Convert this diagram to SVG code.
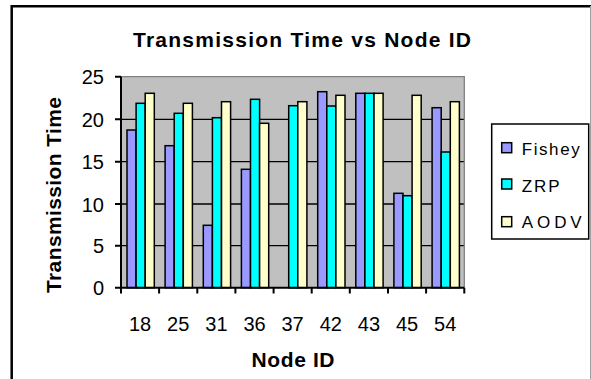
<svg xmlns="http://www.w3.org/2000/svg" width="591" height="379" viewBox="0 0 591 379">
<style>
text{font-family:"Liberation Sans",Arial,sans-serif;fill:#000}
.b{font-weight:bold}
.tick{font-size:20px}
.grid{stroke:#000;stroke-width:1.3}
.bar{stroke:#000;stroke-width:1.5}
.f{fill:#9999FF}.z{fill:#00FFFF}.a{fill:#FFFFCC}
.lg{font-size:17px}
</style>
<rect x="0" y="0" width="591" height="379" fill="#fff"/>
<g id="frame">
<path d="M11.7 379 V6.2 H591" fill="none" stroke="#000" stroke-width="2.5"/>
<line x1="590.5" y1="6" x2="590.5" y2="379" stroke="#a0a0a0" stroke-width="1"/>
</g>
<text id="title" class="b" x="302" y="47" font-size="21" text-anchor="middle" textLength="338">Transmission Time vs Node ID</text>
<g id="plot">
<rect x="121" y="76.7" width="343.3" height="211" fill="#C0C0C0"/>
<g class="grid">
<line x1="121" y1="119.3" x2="464.3" y2="119.3"/>
<line x1="121" y1="161.7" x2="464.3" y2="161.7"/>
<line x1="121" y1="204" x2="464.3" y2="204"/>
<line x1="121" y1="245.7" x2="464.3" y2="245.7"/>
</g>
<path d="M121 76.7 H464.3 V287.7" fill="none" stroke="#808080" stroke-width="1.3"/>
</g>
<g id="bars">
<g id="n18"><rect class="bar f" x="127" y="130" width="9.1" height="157.7"/><rect class="bar z" x="136.1" y="103.3" width="9.1" height="184.4"/><rect class="bar a" x="145.2" y="93.3" width="9.1" height="194.4"/></g>
<g id="n25"><rect class="bar f" x="165.1" y="145.7" width="9.1" height="142"/><rect class="bar z" x="174.2" y="113.3" width="9.1" height="174.4"/><rect class="bar a" x="183.3" y="103.3" width="9.1" height="184.4"/></g>
<g id="n31"><rect class="bar f" x="203.3" y="225.3" width="9.1" height="62.4"/><rect class="bar z" x="212.4" y="117.7" width="9.1" height="170"/><rect class="bar a" x="221.5" y="101.7" width="9.1" height="186"/></g>
<g id="n36"><rect class="bar f" x="241.4" y="169.3" width="9.1" height="118.4"/><rect class="bar z" x="250.5" y="99.3" width="9.1" height="188.4"/><rect class="bar a" x="259.6" y="123.3" width="9.1" height="164.4"/></g>
<g id="n37"><rect class="bar z" x="288.7" y="105.7" width="9.1" height="182"/><rect class="bar a" x="297.8" y="101.7" width="9.1" height="186"/></g>
<g id="n42"><rect class="bar f" x="317.7" y="91.7" width="9.1" height="196"/><rect class="bar z" x="326.8" y="106" width="9.1" height="181.7"/><rect class="bar a" x="335.9" y="95.3" width="9.1" height="192.4"/></g>
<g id="n43"><rect class="bar f" x="355.8" y="93.3" width="9.1" height="194.4"/><rect class="bar z" x="364.9" y="93.3" width="9.1" height="194.4"/><rect class="bar a" x="374" y="93.3" width="9.1" height="194.4"/></g>
<g id="n45"><rect class="bar f" x="393.9" y="193.3" width="9.1" height="94.4"/><rect class="bar z" x="403" y="195.7" width="9.1" height="92"/><rect class="bar a" x="412.1" y="95.3" width="9.1" height="192.4"/></g>
<g id="n54"><rect class="bar f" x="432.1" y="107.7" width="9.1" height="180"/><rect class="bar z" x="441.2" y="152" width="9.1" height="135.7"/><rect class="bar a" x="450.3" y="101.7" width="9.1" height="186"/></g>
</g>
<g id="axes" stroke="#000" stroke-width="2" fill="none">
<path d="M121 76.7 V287.7 H464.3"/>
<path d="M115 76.7 H121 M115 119.3 H121 M115 161.7 H121 M115 204 H121 M115 245.7 H121 M115 287.7 H121"/>
<path d="M121 287.7 V293.5 M159.1 287.7 V293.5 M197.3 287.7 V293.5 M235.4 287.7 V293.5 M273.6 287.7 V293.5 M311.7 287.7 V293.5 M349.8 287.7 V293.5 M388 287.7 V293.5 M426.1 287.7 V293.5 M464.3 287.7 V293.5"/>
</g>
<g id="yticks" class="tick" text-anchor="end">
<text x="104" y="84.2">25</text>
<text x="104" y="126.8">20</text>
<text x="104" y="169.2">15</text>
<text x="104" y="211.5">10</text>
<text x="104" y="253.2">5</text>
<text x="104" y="295.2">0</text>
</g>
<g id="xticks" class="tick" text-anchor="middle">
<text x="140.1" y="331">18</text>
<text x="178.2" y="331">25</text>
<text x="216.4" y="331">31</text>
<text x="254.5" y="331">36</text>
<text x="292.6" y="331">37</text>
<text x="330.8" y="331">42</text>
<text x="368.9" y="331">43</text>
<text x="407.1" y="331">45</text>
<text x="445.2" y="331">54</text>
</g>
<text id="ytitle" class="b" font-size="21" text-anchor="middle" textLength="196" transform="translate(61,195) rotate(-90)">Transmission Time</text>
<text id="xtitle" class="b" x="293" y="367" font-size="21" text-anchor="middle" textLength="83">Node ID</text>
<g id="legend">
<rect x="491.7" y="124" width="97" height="115" fill="#fff" stroke="#000" stroke-width="1.5"/>
<rect class="bar f" x="501.7" y="142.7" width="10" height="10"/>
<rect class="bar z" x="501.7" y="179" width="10" height="10"/>
<rect class="bar a" x="501.7" y="216.7" width="10" height="10"/>
<text class="lg" x="521.7" y="155" textLength="58">Fishey</text>
<text class="lg" x="521.7" y="191.5" textLength="38">ZRP</text>
<text class="lg" x="521.7" y="228" textLength="60">AODV</text>
</g>
</svg>
